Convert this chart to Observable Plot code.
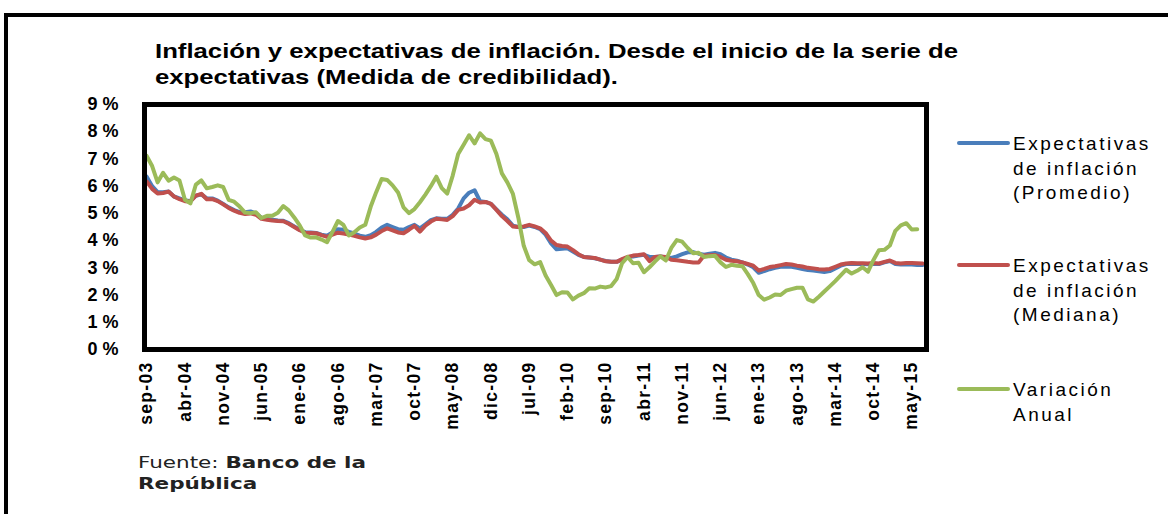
<!DOCTYPE html>
<html>
<head>
<meta charset="utf-8">
<script src="https://cdn.jsdelivr.net/npm/d3@7"></script>
<script src="https://cdn.jsdelivr.net/npm/@observablehq/plot@0.6"></script>
<style>
  html, body { margin:0; padding:0; background:#fff; }
  #wrap { position:relative; width:1168px; height:514px; overflow:hidden; background:#fff; }
  #outer { position:absolute; left:4px; top:13px; width:1300px; height:700px; border:4px solid #000; box-sizing:border-box; }
  #chart { position:absolute; left:0; top:0; }
  .t { position:absolute; white-space:nowrap; line-height:1; transform-origin:0 0; }
  .title { font-family:"Liberation Sans", Arial, sans-serif; font-weight:bold; font-size:21px; color:#000; }
  .leg { font-family:"Liberation Sans", Arial, sans-serif; font-size:19px; letter-spacing:2.5px; color:#000; }
  .src { font-family:"DejaVu Sans", Verdana, sans-serif; font-size:15px; color:#222; }
  .legline { position:absolute; height:4px; width:53px; left:957px; border-radius:2px; }
  #chart svg g[aria-label="y-axis tick label"] text { letter-spacing:5px; }
  #chart svg g[aria-label="x-axis tick label"] text { letter-spacing:1.3px; }
</style>
</head>
<body>
<div id="wrap">
  <div id="outer"></div>
  <div id="chart"></div>
  <div class="t title" id="t1" style="left:155px;top:40px">Inflación y expectativas de inflación. Desde el inicio de la serie de</div>
  <div class="t title" id="t2" style="left:155px;top:66px">expectativas (Medida de credibilidad).</div>
  <div id="legend"></div>
  <div class="t src" id="s1" style="left:138px;top:456px"><span style="font-weight:normal">Fuente: </span><b>Banco de la</b></div>
  <div class="t src" id="s2" style="left:138px;top:477px"><b>República</b></div>
</div>
<script>
// ---- data ----
const tickLabels = ["sep-03","abr-04","nov-04","jun-05","ene-06","ago-06","mar-07","oct-07","may-08","dic-08","jul-09","feb-10","sep-10","abr-11","nov-11","jun-12","ene-13","ago-13","mar-14","oct-14","may-15"];
const seriesNames = ["Expectativas de inflación (Promedio)", "Expectativas de inflación (Mediana)", "Variación Anual"];
const legendLines = [["Expectativas","de inflación","(Promedio)"],["Expectativas","de inflación","(Mediana)"],["Variación","Anual"]];
const seriesColors = ["#4A7EBB", "#C0504D", "#9BBB59"];

// monthly, sep-03 ... jun-15
const variacionAnual = [
  7.11, 6.74, 6.14, 6.49,
  6.20, 6.32, 6.21, 5.50, 5.37, 6.06, 6.21, 5.92, 5.97, 6.03, 5.97, 5.50,
  5.43, 5.25, 5.03, 5.01, 5.04, 4.83, 4.91, 4.91, 5.02, 5.27, 5.11, 4.85,
  4.56, 4.19, 4.11, 4.12, 4.04, 3.94, 4.32, 4.72, 4.58, 4.19, 4.31, 4.48,
  4.58, 5.25, 5.78, 6.26, 6.23, 6.03, 5.77, 5.22, 5.01, 5.16, 5.41, 5.69,
  6.00, 6.35, 5.93, 5.73, 6.39, 7.18, 7.52, 7.87, 7.57, 7.94, 7.73, 7.67,
  7.18, 6.47, 6.14, 5.73, 4.85, 3.81, 3.28, 3.13, 3.21, 2.72, 2.37, 2.00,
  2.10, 2.09, 1.84, 1.98, 2.07, 2.25, 2.24, 2.31, 2.28, 2.33, 2.59, 3.17,
  3.40, 3.17, 3.19, 2.84, 3.02, 3.23, 3.42, 3.27, 3.73, 4.02, 3.96, 3.73,
  3.54, 3.55, 3.40, 3.43, 3.44, 3.20, 3.03, 3.11, 3.08, 3.06, 2.77, 2.44,
  2.00, 1.83, 1.91, 2.02, 2.00, 2.16, 2.22, 2.27, 2.27, 1.84, 1.76, 1.94,
  2.13, 2.32, 2.51, 2.72, 2.93, 2.79, 2.89, 3.02, 2.86, 3.29, 3.65, 3.66,
  3.82, 4.36, 4.56, 4.64, 4.41, 4.42
];

// monthly, sep-03 ... jul-15
const expPromedio = [
  6.35, 6.00, 5.78, 5.78,
  5.80, 5.62, 5.55, 5.48, 5.45, 5.65, 5.70, 5.55, 5.55, 5.47, 5.35, 5.22,
  5.12, 5.05, 5.04, 5.07, 5.00, 4.84, 4.80, 4.77, 4.74, 4.73, 4.64, 4.52,
  4.40, 4.31, 4.30, 4.28, 4.22, 4.18, 4.30, 4.42, 4.40, 4.32, 4.26, 4.18,
  4.14, 4.20, 4.32, 4.48, 4.58, 4.50, 4.42, 4.40, 4.50, 4.58, 4.45, 4.60,
  4.75, 4.82, 4.80, 4.80, 4.95, 5.18, 5.55, 5.76, 5.85, 5.45, 5.42, 5.35,
  5.15, 4.95, 4.78, 4.55, 4.50, 4.50, 4.55, 4.50, 4.42, 4.22, 3.90, 3.68,
  3.70, 3.72, 3.60, 3.48, 3.40, 3.38, 3.35, 3.30, 3.25, 3.22, 3.22, 3.30,
  3.38, 3.42, 3.45, 3.48, 3.40, 3.40, 3.42, 3.38, 3.36, 3.42, 3.50, 3.57,
  3.58, 3.52, 3.48, 3.52, 3.55, 3.50, 3.38, 3.30, 3.26, 3.20, 3.12, 3.02,
  2.82, 2.88, 2.95, 3.00, 3.04, 3.05, 3.04, 3.00, 2.96, 2.92, 2.90, 2.87,
  2.85, 2.88, 2.98, 3.08, 3.14, 3.15, 3.14, 3.14, 3.13, 3.15, 3.14, 3.20,
  3.25, 3.14, 3.12, 3.12, 3.12, 3.10, 3.10
];

const expMediana = [
  6.17, 5.90, 5.73, 5.75,
  5.80, 5.62, 5.52, 5.45, 5.44, 5.65, 5.72, 5.52, 5.52, 5.45, 5.33, 5.20,
  5.10, 5.02, 4.98, 5.00, 4.95, 4.80, 4.77, 4.74, 4.72, 4.71, 4.62, 4.50,
  4.38, 4.29, 4.28, 4.27, 4.20, 4.14, 4.22, 4.29, 4.26, 4.22, 4.18, 4.12,
  4.08, 4.12, 4.22, 4.35, 4.45, 4.38, 4.30, 4.27, 4.40, 4.54, 4.33, 4.55,
  4.70, 4.80, 4.78, 4.76, 4.90, 5.13, 5.18, 5.30, 5.50, 5.40, 5.42, 5.35,
  5.13, 4.90, 4.72, 4.52, 4.50, 4.52, 4.58, 4.52, 4.45, 4.28, 4.00, 3.84,
  3.80, 3.78, 3.65, 3.50, 3.40, 3.38, 3.36, 3.30, 3.24, 3.22, 3.22, 3.32,
  3.40, 3.45, 3.47, 3.50, 3.25, 3.40, 3.42, 3.40, 3.30, 3.28, 3.25, 3.22,
  3.20, 3.20, 3.45, 3.46, 3.47, 3.40, 3.30, 3.26, 3.24, 3.20, 3.14, 3.08,
  2.90, 2.96, 3.03, 3.06, 3.10, 3.14, 3.12, 3.08, 3.05, 3.00, 2.98, 2.95,
  2.94, 2.96, 3.04, 3.12, 3.16, 3.18, 3.17, 3.17, 3.16, 3.18, 3.16, 3.22,
  3.27, 3.18, 3.16, 3.18, 3.18, 3.17, 3.16
];

// ---- chart ----
const toRows = (arr) => arr.map((v, i) => ({i, v}));
const chart = Plot.plot({
  width: 1168,
  height: 514,
  marginLeft: 144,
  marginRight: 242,
  marginTop: 104,
  marginBottom: 165,
  style: {fontFamily: '"Liberation Sans", Arial, sans-serif', color: "#000", background: "transparent"},
  x: {domain: [-0.4, 142.7]},
  y: {domain: [0, 9]},
  marks: [
    Plot.axisY({ticks: d3.range(0, 10), tickFormat: d => d + "%", tickSize: 0, tickPadding: 21, fontSize: 18, fontWeight: "bold", label: null}),
    Plot.axisX({ticks: d3.range(0, 141, 7), tickFormat: i => tickLabels[Math.round(i / 7)], tickRotate: -90, tickSize: 0, tickPadding: 12, fontSize: 17.5, fontWeight: "bold", label: null}),
    Plot.lineY(toRows(expPromedio), {x: "i", y: "v", stroke: seriesColors[0], strokeWidth: 4}),
    Plot.lineY(toRows(expMediana), {x: "i", y: "v", stroke: seriesColors[1], strokeWidth: 4}),
    Plot.lineY(toRows(variacionAnual), {x: "i", y: "v", stroke: seriesColors[2], strokeWidth: 4}),
    Plot.frame({stroke: "#000", strokeWidth: 5})
  ]
});
document.getElementById("chart").appendChild(chart);

// ---- legend ----
const legend = document.getElementById("legend");
const legLineY = [143, 265, 389];
const legTextTop = [134, 256, 380];
const legPitch = 24.5;
seriesNames.forEach((name, k) => {
  const ln = document.createElement("div");
  ln.className = "legline";
  ln.style.top = (legLineY[k] - 2) + "px";
  ln.style.background = seriesColors[k];
  ln.title = name;
  legend.appendChild(ln);
  legendLines[k].forEach((txt, j) => {
    const d = document.createElement("div");
    d.className = "t leg";
    d.style.left = "1013px";
    d.style.top = (legTextTop[k] + j * legPitch) + "px";
    d.textContent = txt;
    legend.appendChild(d);
  });
});

// ---- fit widths ----
function fit(ids, target) {
  const w = document.getElementById(ids[0]).getBoundingClientRect().width;
  const k = target / w;
  ids.forEach(id => document.getElementById(id).style.transform = `scaleX(${k})`);
}
fit(["t1", "t2"], 803);
fit(["s1", "s2"], 228);
</script>
</body>
</html>
